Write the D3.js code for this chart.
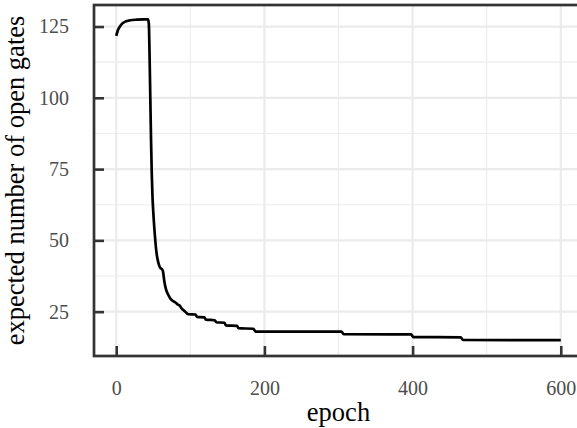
<!DOCTYPE html>
<html>
<head>
<meta charset="utf-8">
<script src="https://cdn.jsdelivr.net/npm/d3@7"></script>
<style>
  html, body { margin: 0; padding: 0; background: #fff; }
  svg { display: block; }
</style>
</head>
<body>
<svg id="chart" width="577" height="428" font-family="Liberation Serif"></svg>
<script>
// Expected number of open gates per training epoch
const epochs = [0, 2, 5, 8, 12, 19, 28, 37, 43, 44, 45, 46, 47, 48, 49, 50, 51.5, 52.7, 54, 55, 57, 59, 62, 63, 65, 67, 70, 73, 76, 80, 83, 86, 88, 91, 95, 97,
  107, 109, 119, 121, 133, 135, 146, 148, 163, 165, 185, 188, 304, 307, 398, 401, 465, 468, 600];
const openGates = [121.7, 123.5, 125.0, 126.0, 126.7, 127.2, 127.4, 127.5, 127.5, 126, 115, 100, 85, 73, 65, 60, 54, 50, 46.5, 44.5, 42, 40.5, 39.8, 39.2, 35.5, 33, 31, 29.6, 28.8, 28.2, 27.5, 27, 26.2, 25.5, 24.5, 24.1,
  24, 23.2, 23, 22.2, 22, 21.3, 21.1, 20.2, 20.0, 19.2, 19.0, 18.0, 18, 17.1, 17, 16.1, 16, 15.1, 15];

const xTicks = [0, 200, 400, 600];
const xMinor = [100, 300, 500];
const yTicks = [25, 50, 75, 100, 125];
const yMinor = [37.5, 62.5, 87.5, 112.5];
const xLimits = [-30, 630];
const yLimits = [9.45, 132.55];

const FONT = "Liberation Serif";

const svg = d3.select("#chart");
const panel = { left: 94, right: 583, top: 5, bottom: 356 };

const x = d3.scaleLinear().domain(xLimits).range([panel.left, panel.right]);
const y = d3.scaleLinear().domain(yLimits).range([panel.bottom, panel.top]);

const grid = svg.append("g").attr("class", "grid");
// minor grid
grid.selectAll("line.vminor").data(xMinor).join("line")
  .attr("x1", d => x(d)).attr("x2", d => x(d))
  .attr("y1", panel.top).attr("y2", panel.bottom)
  .attr("stroke", "#ececec").attr("stroke-width", 1.1);
grid.selectAll("line.hminor").data(yMinor).join("line")
  .attr("x1", panel.left).attr("x2", panel.right)
  .attr("y1", d => y(d)).attr("y2", d => y(d))
  .attr("stroke", "#ececec").attr("stroke-width", 1.1);
// major grid
grid.selectAll("line.vmajor").data(xTicks).join("line")
  .attr("x1", d => x(d)).attr("x2", d => x(d))
  .attr("y1", panel.top).attr("y2", panel.bottom)
  .attr("stroke", "#ebebeb").attr("stroke-width", 2.2);
grid.selectAll("line.hmajor").data(yTicks).join("line")
  .attr("x1", panel.left).attr("x2", panel.right)
  .attr("y1", d => y(d)).attr("y2", d => y(d))
  .attr("stroke", "#ebebeb").attr("stroke-width", 2.2);

// data line
const pts = epochs.map((e, i) => [e, openGates[i]]);
const line = d3.line().x(d => x(d[0])).y(d => y(d[1])).curve(d3.curveMonotoneX);
svg.append("path")
  .datum(pts)
  .attr("d", line)
  .attr("fill", "none")
  .attr("stroke", "#000")
  .attr("stroke-width", 2.7)
  .attr("stroke-linejoin", "round");

// panel border
svg.append("rect")
  .attr("x", panel.left).attr("y", panel.top)
  .attr("width", panel.right - panel.left).attr("height", panel.bottom - panel.top)
  .attr("fill", "none").attr("stroke", "#333333").attr("stroke-width", 2.7);

// axes with inward ticks
const xAxis = svg.append("g")
  .attr("transform", `translate(0,${panel.bottom})`)
  .call(d3.axisBottom(x).tickValues(xTicks).tickSize(-10).tickPadding(25));
const yAxis = svg.append("g")
  .attr("transform", `translate(${panel.left},0)`)
  .call(d3.axisLeft(y).tickValues(yTicks).tickSize(-10).tickPadding(25));

[xAxis, yAxis].forEach(g => {
  g.attr("font-family", FONT).attr("font-size", 20);
  g.select(".domain").remove();
  g.selectAll(".tick line").attr("stroke", "#333333").attr("stroke-width", 2.6);
  g.selectAll(".tick text")
    .attr("fill", "#4d4d4d")
    .style("font-family", FONT)
    .style("font-size", "20px");
});

// axis titles
svg.append("text")
  .attr("x", x(300)).attr("y", 421)
  .attr("text-anchor", "middle")
  .style("font-family", FONT)
  .style("font-size", "26.5px")
  .attr("fill", "#000")
  .text("epoch");

svg.append("text")
  .attr("transform", `translate(24,${(panel.top + panel.bottom) / 2}) rotate(-90)`)
  .attr("text-anchor", "middle")
  .style("font-family", FONT)
  .style("font-size", "26.5px")
  .attr("fill", "#000")
  .text("expected number of open gates");
</script>
</body>
</html>
